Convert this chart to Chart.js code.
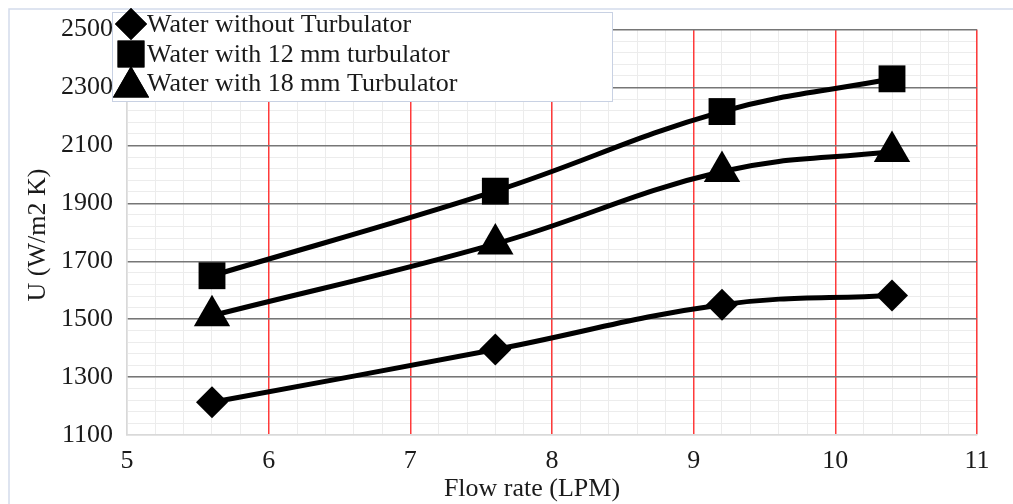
<!DOCTYPE html>
<html><head><meta charset="utf-8">
<script src="https://cdn.jsdelivr.net/npm/chart.js@4.4.1/dist/chart.umd.min.js"></script>
<style>html,body{margin:0;padding:0;background:#fff}#wrap{width:1013px;height:504px}</style>
</head><body><div id="wrap"><canvas id="c" width="1013" height="504"></canvas></div>
<script>
const flowRates = [5.6, 7.6, 9.2, 10.4];
const noTurb = [1213, 1395, 1550, 1582];
const turb12 = [1650, 1942, 2217, 2330];
const turb18 = [1512, 1760, 2010, 2079];
const seriesNames = ['Water without Turbulator', 'Water with 12 mm turbulator', 'Water with 18 mm Turbulator'];
const seriesStyles = ['rectRot', 'rect', 'triangle'];
const seriesRadius = [16, 19, 21];
const xTicks = [5, 6, 7, 8, 9, 10, 11];
const yTicks = [1100, 1300, 1500, 1700, 1900, 2100, 2300, 2500];
const xTitle = 'Flow rate (LPM)';
const yTitle = 'U (W/m2 K)';

const SERIF = "'Liberation Serif', 'DejaVu Serif', serif";

function mk(vals, i) {
  return {
    label: seriesNames[i],
    data: flowRates.map((x, k) => ({x: x, y: vals[k]})),
    borderColor: '#000', backgroundColor: '#000',
    borderWidth: 5, tension: 0.4,
    pointStyle: seriesStyles[i], pointRadius: seriesRadius[i],
    pointBackgroundColor: '#000', pointBorderColor: '#000', pointBorderWidth: 0,
    clip: false
  };
}

const overlay = {
  id: 'overlay',
  afterDraw(chart) {
    const ctx = chart.ctx;
    ctx.save();
    ctx.strokeStyle = '#d3dbeb'; ctx.lineWidth = 1.5;
    ctx.beginPath(); ctx.moveTo(9, 504); ctx.lineTo(9, 9); ctx.lineTo(1013, 9); ctx.stroke();
    ctx.fillStyle = '#fff';
    ctx.fillRect(112, 12, 500, 89);
    ctx.strokeStyle = '#c8d1e3'; ctx.lineWidth = 1;
    ctx.strokeRect(112.5, 12.5, 500, 89);
    const rows = [24, 54, 83];
    chart.data.datasets.forEach((ds, i) => {
      ctx.fillStyle = '#000'; ctx.strokeStyle = '#000';
      Chart.helpers.drawPoint(ctx, {pointStyle: ds.pointStyle, radius: ds.pointRadius, rotation: 0, borderWidth: 0}, 131, rows[i] + (i === 2 ? 4 : 0));
      ctx.fill();
      ctx.fillStyle = '#1a1a1a';
      ctx.font = "26px " + SERIF;
      ctx.textBaseline = 'middle'; ctx.textAlign = 'left';
      ctx.fillText(ds.label, 147, rows[i] + 1);
    });
    ctx.fillStyle = '#1a1a1a';
    ctx.font = "26px " + SERIF;
    ctx.textAlign = 'center'; ctx.textBaseline = 'middle';
    ctx.fillText(xTitle, 532, 489);
    ctx.translate(38, 235); ctx.rotate(-Math.PI / 2);
    ctx.fillText(yTitle, 0, 0);
    ctx.restore();
  }
};

new Chart(document.getElementById('c'), {
  type: 'line',
  data: { datasets: [mk(noTurb, 0), mk(turb12, 1), mk(turb18, 2)] },
  options: {
    responsive: false, animation: false, devicePixelRatio: 1,
    layout: { padding: { top: 28, right: 36, left: 0, bottom: 0 } },
    plugins: { legend: { display: false }, tooltip: { enabled: false } },
    scales: {
      x2: {
        type: 'linear', min: 5, max: 11, position: 'bottom', z: -1,
        ticks: { stepSize: 0.2, display: false },
        grid: { drawTicks: false, color: '#ececec', lineWidth: 1 },
        border: { display: false },
        afterFit: s => { s.height = 0; }
      },
      y2: {
        type: 'linear', min: 1100, max: 2500, position: 'left', z: -1,
        ticks: { stepSize: 40, display: false },
        grid: { drawTicks: false, color: '#ececec', lineWidth: 1 },
        border: { display: false },
        afterFit: s => { s.width = 0; }
      },
      x: {
        type: 'linear', min: 5, max: 11, position: 'bottom',
        afterBuildTicks: s => { s.ticks = xTicks.map(v => ({value: v})); },
        ticks: { font: { family: SERIF, size: 26 }, color: '#1a1a1a', padding: 11, callback: v => String(v) },
        grid: { drawTicks: false, lineWidth: 1.5, color: xTicks.map(v => v === 5 ? 'rgba(0,0,0,0)' : '#ff3b3b') },
        border: { color: '#d9d9d9', width: 1.5, z: 1 },
        afterFit: s => { s.height = 69; }
      },
      y: {
        type: 'linear', min: 1100, max: 2500, position: 'left',
        afterBuildTicks: s => { s.ticks = yTicks.map(v => ({value: v})); },
        ticks: { font: { family: SERIF, size: 26 }, color: '#1a1a1a', padding: 14, callback: v => String(v) },
        grid: { drawTicks: false, lineWidth: 1.5, color: yTicks.map(v => v === 1100 ? 'rgba(0,0,0,0)' : '#767676') },
        border: { color: '#d9d9d9', width: 1.5 },
        afterFit: s => { s.width = 127; }
      }
    }
  },
  plugins: [overlay]
});
</script>
</body></html>
